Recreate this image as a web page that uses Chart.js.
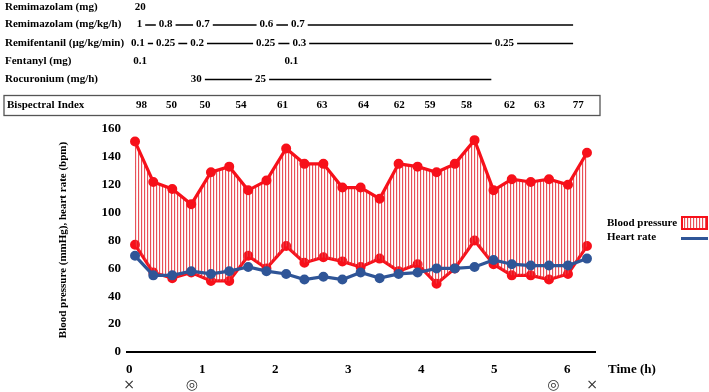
<!DOCTYPE html>
<html><head><meta charset="utf-8">
<script src="https://cdn.jsdelivr.net/npm/chart.js@4/dist/chart.umd.min.js"></script>
<style>html,body{margin:0;padding:0;background:#fff}#wrap{width:709px;height:392px;position:relative}</style>
</head><body><div id="wrap"><canvas id="c" width="709" height="392"></canvas></div>
<script>
// ---- data ----
const timeH = [0.08,0.33,0.59,0.85,1.12,1.37,1.63,1.88,2.15,2.40,2.66,2.92,3.17,3.43,3.69,3.95,4.21,4.46,4.73,4.99,5.24,5.50,5.75,6.01,6.27];
const systolic = [151,122,117,106,129,133,116,123,146,135,135,118,118,110,135,133,129,135,152,116,124,122,124,120,143];
const diastolic = [77,57,53,57,51,51,69,60,76,64,68,65,61,67,58,63,49,60,80,63,55,55,52,56,76];
const heartRate = [69,55,55,58,56,58,61,58,56,52,54,52,57,53,56,57,60,60,61,66,63,62,62,62,67];
const xTickValues = [0,1,2,3,4,5,6];
const yTickValues = [0,20,40,60,80,100,120,140,160];

const bisTitle = 'Bispectral Index';
const bisTimes = [0.17,0.58,1.04,1.53,2.10,2.64,3.21,3.70,4.12,4.62,5.21,5.62,6.15];
const bisValues = ['98','50','50','54','61','63','64','62','59','58','62','63','77'];

const rowLabels = ['Remimazolam (mg)','Remimazolam (mg/kg/h)','Remifentanil (\u00b5g/kg/min)','Fentanyl (mg)','Rocuronium (mg/h)'];
const remimazolamBolusTimes = [0.15];
const remimazolamBolusValues = ['20'];
const remimazolamRateTimes = [0.14,0.50,1.01,1.88,2.31];
const remimazolamRateValues = ['1','0.8','0.7','0.6','0.7'];
const remimazolamRateEnd = 6.08;
const remifentanilTimes = [0.12,0.50,0.93,1.87,2.33,5.14];
const remifentanilValues = ['0.1','0.25','0.2','0.25','0.3','0.25'];
const remifentanilEnd = 6.08;
const fentanylTimes = [0.15,2.22];
const fentanylValues = ['0.1','0.1'];
const rocuroniumTimes = [0.92,1.80];
const rocuroniumValues = ['30','25'];
const rocuroniumEnd = 4.96;

const eventTimes = [0.0,0.86,5.81,6.34];
const eventSymbols = ['\u00d7','\u25ce','\u25ce','\u00d7'];

const seriesNames = ['Blood pressure','Heart rate'];
const xTitle = 'Time (h)';
const yTitle = 'Blood pressure (mmHg), heart rate (bpm)';

// ---- styles ----
const RED = '#f7101a';
const BLUE = '#2f5597';
const FONT = '"Liberation Serif", "Times New Roman", serif';

function makeHatch(ctx){
  const pc = document.createElement('canvas'); pc.width = 3; pc.height = 4;
  const p = pc.getContext('2d');
  p.fillStyle = 'rgba(228,35,45,0.8)';
  p.fillRect(0,0,1,4);
  p.fillStyle = 'rgba(240,150,155,0.25)';
  p.fillRect(1,0,1,4);
  return ctx.createPattern(pc,'repeat');
}

const canvas = document.getElementById('c');
const ctx0 = canvas.getContext('2d');
const hatch = makeHatch(ctx0);

const pts = arr => timeH.map((t,i)=>({x:t,y:arr[i]}));

const annot = {
  id:'annot',
  afterDraw(chart){
    const ctx = chart.ctx, xs = chart.scales.x;
    const X = t => xs.getPixelForValue(t);
    ctx.save();
    ctx.fillStyle = '#000'; ctx.strokeStyle = '#000';
    ctx.font = 'bold 11px ' + FONT;
    ctx.textBaseline = 'middle';
    const rowY = [7, 24.5, 43, 61, 79];
    ctx.textAlign = 'left';
    rowLabels.forEach((l,i)=>ctx.fillText(l, 5, rowY[i]));
    function row(times, values, y, endT){
      ctx.textAlign = 'center';
      const ws = values.map(v=>ctx.measureText(v).width);
      times.forEach((t,i)=>ctx.fillText(values[i], X(t), y));
      if (endT == null) return;
      ctx.lineWidth = 1.6;
      ctx.beginPath();
      for (let i=0;i<times.length;i++){
        const x0 = X(times[i]) + ws[i]/2 + 3;
        const x1 = i < times.length-1 ? X(times[i+1]) - ws[i+1]/2 - 3 : X(endT);
        ctx.moveTo(x0, y+0.5); ctx.lineTo(x1, y+0.5);
      }
      ctx.stroke();
    }
    row(remimazolamBolusTimes, remimazolamBolusValues, rowY[0], null);
    row(remimazolamRateTimes, remimazolamRateValues, rowY[1], remimazolamRateEnd);
    row(remifentanilTimes, remifentanilValues, rowY[2], remifentanilEnd);
    row(fentanylTimes, fentanylValues, rowY[3], null);
    row(rocuroniumTimes, rocuroniumValues, rowY[4], rocuroniumEnd);
    // BIS box
    ctx.lineWidth = 1.3; ctx.strokeStyle = '#555';
    ctx.strokeRect(4, 95.5, 596, 20);
    ctx.textAlign = 'left';
    ctx.fillText(bisTitle, 7, 105.5);
    ctx.textAlign = 'center';
    bisTimes.forEach((t,i)=>ctx.fillText(bisValues[i], X(t), 105.5));
    // y title
    ctx.save();
    ctx.translate(63, 240); ctx.rotate(-Math.PI/2);
    ctx.textAlign = 'center';
    ctx.fillText(yTitle, 0, 0);
    ctx.restore();
    // x title
    ctx.font = 'bold 13px ' + FONT;
    ctx.textAlign = 'left';
    ctx.fillText(xTitle, 608, 369.5);
    // legend
    ctx.font = 'bold 11px ' + FONT;
    ctx.fillText(seriesNames[0], 607, 223.5);
    ctx.fillText(seriesNames[1], 607, 237.5);
    ctx.fillStyle = hatch; ctx.fillRect(682, 217, 25, 12);
    ctx.strokeStyle = RED; ctx.lineWidth = 2; ctx.strokeRect(682, 217, 25, 12);
    ctx.strokeStyle = BLUE; ctx.lineWidth = 3;
    ctx.beginPath(); ctx.moveTo(681, 238.5); ctx.lineTo(708, 238.5); ctx.stroke();
    // event markers
    ctx.fillStyle = '#333';
    ctx.font = '14px "DejaVu Sans", sans-serif';
    ctx.textAlign = 'center';
    eventTimes.forEach((t,i)=>ctx.fillText(eventSymbols[i], X(t), 385.5));
    ctx.restore();
  }
};

new Chart(canvas, {
  type:'line',
  data:{
    datasets:[
      {label:'Systolic', data:pts(systolic), borderColor:RED, backgroundColor:hatch, fill:'+1',
       borderWidth:3.2, pointRadius:3.4, pointBackgroundColor:RED, pointBorderColor:RED, tension:0, order:1},
      {label:'Diastolic', data:pts(diastolic), borderColor:RED, fill:false,
       borderWidth:3.2, pointRadius:3.4, pointBackgroundColor:RED, pointBorderColor:RED, tension:0, order:1},
      {label:'Heart rate', data:pts(heartRate), borderColor:BLUE, fill:false,
       borderWidth:3.2, pointRadius:3.4, pointBackgroundColor:BLUE, pointBorderColor:BLUE, tension:0, order:0}
    ]
  },
  options:{
    responsive:false, animation:false, devicePixelRatio:1,
    layout:{padding:{top:129,right:114,bottom:0,left:0}},
    plugins:{legend:{display:false}, tooltip:{enabled:false}},
    scales:{
      x:{type:'linear', min:-0.03, max:6.38,
         afterBuildTicks:s=>{s.ticks = xTickValues.map(v=>({value:v}));},
         afterFit:s=>{s.height = 40;},
         grid:{display:false, drawTicks:false},
         border:{display:true, color:'#000', width:2},
         ticks:{color:'#000', padding:10, maxRotation:0, autoSkip:false, font:{family:FONT, size:13, weight:'bold'}}},
      y:{min:0, max:160,
         afterBuildTicks:s=>{s.ticks = yTickValues.map(v=>({value:v}));},
         afterFit:s=>{s.width = 127;},
         grid:{display:false, drawTicks:false},
         border:{display:false},
         ticks:{color:'#000', padding:6, font:{family:FONT, size:13, weight:'bold'}}}
    }
  },
  plugins:[annot]
});
</script></body></html>
